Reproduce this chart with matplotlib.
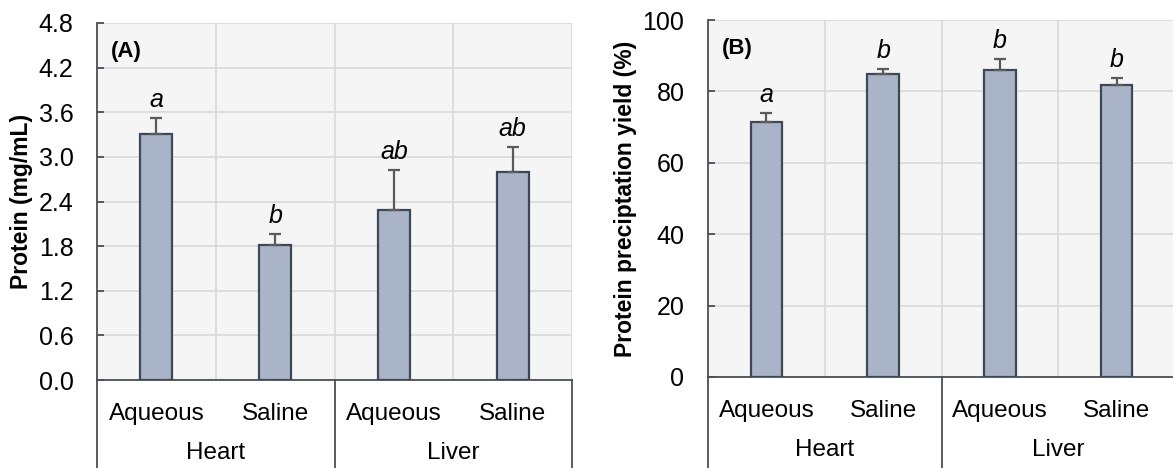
import matplotlib.pyplot as plt
import matplotlib.transforms as mtransforms

plt.rcParams['font.family'] = ['Liberation Sans', 'DejaVu Sans']

treatments = ["Aqueous", "Saline", "Aqueous", "Saline"]
organs = ["Heart", "Liver"]

# panel A: protein concentration
protein = [3.31, 1.82, 2.28, 2.80]
protein_err = [0.21, 0.14, 0.54, 0.33]
protein_letters = ["a", "b", "ab", "ab"]

# panel B: precipitation yield
yield_pct = [71.5, 84.9, 86.1, 81.8]
yield_err = [2.4, 1.3, 2.9, 2.0]
yield_letters = ["a", "b", "b", "b"]

W, H = 1173, 468
fig = plt.figure(figsize=(W / 100, H / 100), dpi=100)

bar_col = '#aab4c8'
edge_col = '#3d4756'
grid_col = '#d9d9d9'
axis_col = '#4a4f57'


def panel(rect, vals, errs, letters, ylim, yticks, fmt, ylabel, tag):
    ax = fig.add_axes(rect)
    ax.set_facecolor('#f5f5f5')
    x = list(range(len(vals)))
    ax.bar(x, vals, width=0.27, color=bar_col, edgecolor=edge_col, linewidth=1.6, zorder=3)
    ax.errorbar(x, vals, yerr=[[0] * len(errs), errs], fmt='none', ecolor='#5a5a5a',
                elinewidth=1.6, capsize=4, capthick=1.6, zorder=4)
    for xi, v, e, t in zip(x, vals, errs, letters):
        ax.annotate(t, (xi, v + e), xytext=(0, 11), textcoords='offset pixels',
                    ha='center', va='baseline', fontsize=18, style='italic')
    ax.set_xlim(-0.5, 3.5)
    ax.set_ylim(*ylim)
    ax.set_yticks(yticks)
    ax.set_yticklabels([fmt.format(t) for t in yticks])
    for t in yticks:
        ax.axhline(t, color=grid_col, lw=1.2, zorder=1)
    for b in [0.5, 1.5, 2.5, 3.5]:
        ax.axvline(b, color=grid_col, lw=1.2, zorder=1)
    ax.set_xticks([])
    for s in ['top', 'right']:
        ax.spines[s].set_visible(False)
    ax.spines['left'].set_color(axis_col)
    ax.spines['bottom'].set_color(axis_col)
    ax.spines['left'].set_linewidth(1.3)
    ax.spines['bottom'].set_linewidth(1.3)
    ax.tick_params(axis='y', direction='in', length=5, width=1.3, color=axis_col,
                   labelsize=18, pad=17)
    ax.set_ylabel(ylabel, fontsize=16.5, fontweight='bold', labelpad=4)
    ax.text(0.03, 0.92, tag, transform=ax.transAxes, fontsize=16, fontweight='bold',
            va='center', ha='left')

    # category label box under the axis
    trans = mtransforms.blended_transform_factory(ax.transData, ax.transAxes)
    for b in [-0.5, 1.5, 3.5]:
        ax.plot([b, b], [0, -0.26], color=axis_col, lw=1.3, transform=trans, clip_on=False)
    for xi, t in zip(x, treatments):
        ax.text(xi, -0.095, t, transform=trans, ha='center', va='center', fontsize=17.5)
    for i, g in enumerate(organs):
        ax.text(2 * i + 0.5, -0.205, g, transform=trans, ha='center', va='center', fontsize=17.5)
    return ax


panel([97 / W, (H - 380) / H, 475 / W, 357 / H], protein, protein_err, protein_letters,
      (0, 4.8), [0, 0.6, 1.2, 1.8, 2.4, 3.0, 3.6, 4.2, 4.8], "{:.1f}",
      "Protein (mg/mL)", "(A)")
panel([708 / W, (H - 377) / H, 467 / W, 357 / H], yield_pct, yield_err, yield_letters,
      (0, 100), [0, 20, 40, 60, 80, 100], "{:.0f}",
      "Protein preciptation yield (%)", "(B)")

fig.savefig('out.png', dpi=100)
